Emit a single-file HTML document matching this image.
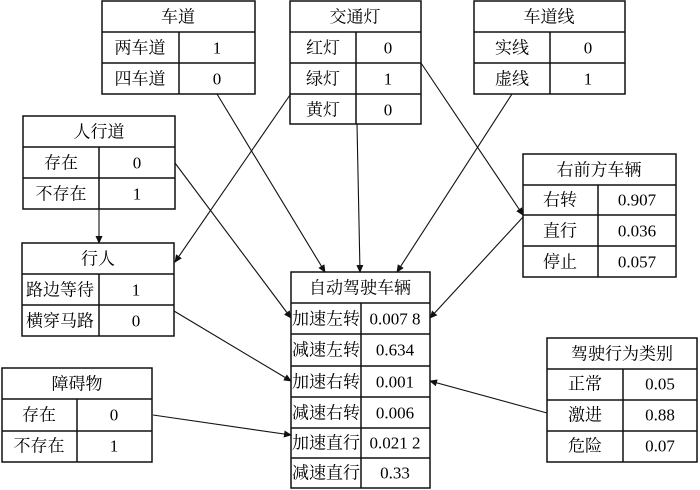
<!DOCTYPE html>
<html><head><meta charset="utf-8"><style>
html,body{margin:0;padding:0;background:#fff;}
svg{display:block;}
text{font-family:"Liberation Serif","Noto Serif CJK SC",serif;font-size:17px;fill:#000;text-anchor:middle;dominant-baseline:central;}
</style></head><body>
<svg width="700" height="490" viewBox="0 0 700 490">
<defs><marker id="a" markerWidth="8" markerHeight="8" refX="7" refY="4" orient="auto" markerUnits="userSpaceOnUse"><path d="M0,0.5 L8,4 L0,7.5 z" fill="#111"/></marker></defs>
<g stroke="#111" stroke-width="1.5" fill="none">
<rect x="102" y="1" width="153" height="93"/><line x1="102" y1="32" x2="255" y2="32"/><line x1="102" y1="63" x2="255" y2="63"/><line x1="179" y1="32" x2="179" y2="94"/>
<rect x="290" y="1" width="131" height="123"/><line x1="290" y1="32" x2="421" y2="32"/><line x1="290" y1="63" x2="421" y2="63"/><line x1="290" y1="94" x2="421" y2="94"/><line x1="356" y1="32" x2="356" y2="124"/>
<rect x="474" y="1" width="151" height="93"/><line x1="474" y1="32" x2="625" y2="32"/><line x1="474" y1="63" x2="625" y2="63"/><line x1="550" y1="32" x2="550" y2="94"/>
<rect x="23" y="116" width="152" height="93"/><line x1="23" y1="147" x2="175" y2="147"/><line x1="23" y1="178" x2="175" y2="178"/><line x1="99" y1="147" x2="99" y2="209"/>
<rect x="22" y="243" width="152" height="93"/><line x1="22" y1="274" x2="174" y2="274"/><line x1="22" y1="305" x2="174" y2="305"/><line x1="99" y1="274" x2="99" y2="336"/>
<rect x="523" y="154" width="153" height="123"/><line x1="523" y1="185" x2="676" y2="185"/><line x1="523" y1="215" x2="676" y2="215"/><line x1="523" y1="246" x2="676" y2="246"/><line x1="598" y1="185" x2="598" y2="277"/>
<rect x="291" y="272" width="139" height="216"/>
<line x1="291" y1="303" x2="430" y2="303"/><line x1="291" y1="334" x2="430" y2="334"/><line x1="291" y1="366" x2="430" y2="366"/><line x1="291" y1="397" x2="430" y2="397"/><line x1="291" y1="428" x2="430" y2="428"/><line x1="291" y1="458" x2="430" y2="458"/><line x1="361" y1="303" x2="361" y2="488"/>
<rect x="2" y="368" width="150" height="94"/><line x1="2" y1="399" x2="152" y2="399"/><line x1="2" y1="431" x2="152" y2="431"/><line x1="77" y1="399" x2="77" y2="462"/>
<rect x="547" y="338" width="150" height="124"/><line x1="547" y1="369" x2="697" y2="369"/><line x1="547" y1="400" x2="697" y2="400"/><line x1="547" y1="431" x2="697" y2="431"/><line x1="623" y1="369" x2="623" y2="462"/>
</g>
<g stroke="#111" stroke-width="1.1" fill="none">
<line x1="217" y1="94" x2="325" y2="272" marker-end="url(#a)"/>
<line x1="290" y1="95" x2="175" y2="262" marker-end="url(#a)"/>
<line x1="357" y1="124" x2="360" y2="272" marker-end="url(#a)"/>
<line x1="421" y1="63" x2="523" y2="215" marker-end="url(#a)"/>
<line x1="512" y1="94" x2="397" y2="272" marker-end="url(#a)"/>
<line x1="175" y1="163" x2="291" y2="318" marker-end="url(#a)"/>
<line x1="99" y1="209" x2="99" y2="243" marker-end="url(#a)"/>
<line x1="523" y1="217" x2="430" y2="318" marker-end="url(#a)"/>
<line x1="174" y1="311" x2="291" y2="381" marker-end="url(#a)"/>
<line x1="153" y1="415" x2="291" y2="435" marker-end="url(#a)"/>
<line x1="547" y1="413" x2="430" y2="381" marker-end="url(#a)"/>
</g>
<text x="178" y="17">车道</text><text x="140" y="48">两车道</text><text x="217" y="48">1</text><text x="140" y="79">四车道</text><text x="217" y="79">0</text>
<text x="355" y="17">交通灯</text><text x="323" y="48">红灯</text><text x="388" y="48">0</text><text x="323" y="79">绿灯</text><text x="388" y="79">1</text><text x="323" y="110">黄灯</text><text x="388" y="110">0</text>
<text x="549" y="17">车道线</text><text x="512" y="48">实线</text><text x="588" y="48">0</text><text x="512" y="79">虚线</text><text x="588" y="79">1</text>
<text x="99" y="132">人行道</text><text x="61" y="163">存在</text><text x="137" y="163">0</text><text x="61" y="194">不存在</text><text x="137" y="194">1</text>
<text x="98" y="259">行人</text><text x="60" y="290">路边等待</text><text x="136" y="290">1</text><text x="60" y="321">横穿马路</text><text x="136" y="321">0</text>
<text x="599" y="170">右前方车辆</text><text x="560" y="200">右转</text><text x="637" y="200">0.907</text><text x="560" y="231">直行</text><text x="637" y="231">0.036</text><text x="560" y="262">停止</text><text x="637" y="262">0.057</text>
<text x="360" y="288">自动驾驶车辆</text>
<text x="326" y="319">加速左转</text><text x="395" y="319">0.007 8</text>
<text x="326" y="350">减速左转</text><text x="395" y="350">0.634</text>
<text x="326" y="382">加速右转</text><text x="395" y="382">0.001</text>
<text x="326" y="413">减速右转</text><text x="395" y="413">0.006</text>
<text x="326" y="443">加速直行</text><text x="395" y="443">0.021 2</text>
<text x="326" y="473">减速直行</text><text x="395" y="473">0.33</text>
<text x="77" y="384">障碍物</text><text x="39" y="415">存在</text><text x="114" y="415">0</text><text x="39" y="446">不存在</text><text x="114" y="446">1</text>
<text x="622" y="354">驾驶行为类别</text><text x="585" y="384">正常</text><text x="660" y="384">0.05</text><text x="585" y="415">激进</text><text x="660" y="415">0.88</text><text x="585" y="446">危险</text><text x="660" y="446">0.07</text>
</svg>
</body></html>
